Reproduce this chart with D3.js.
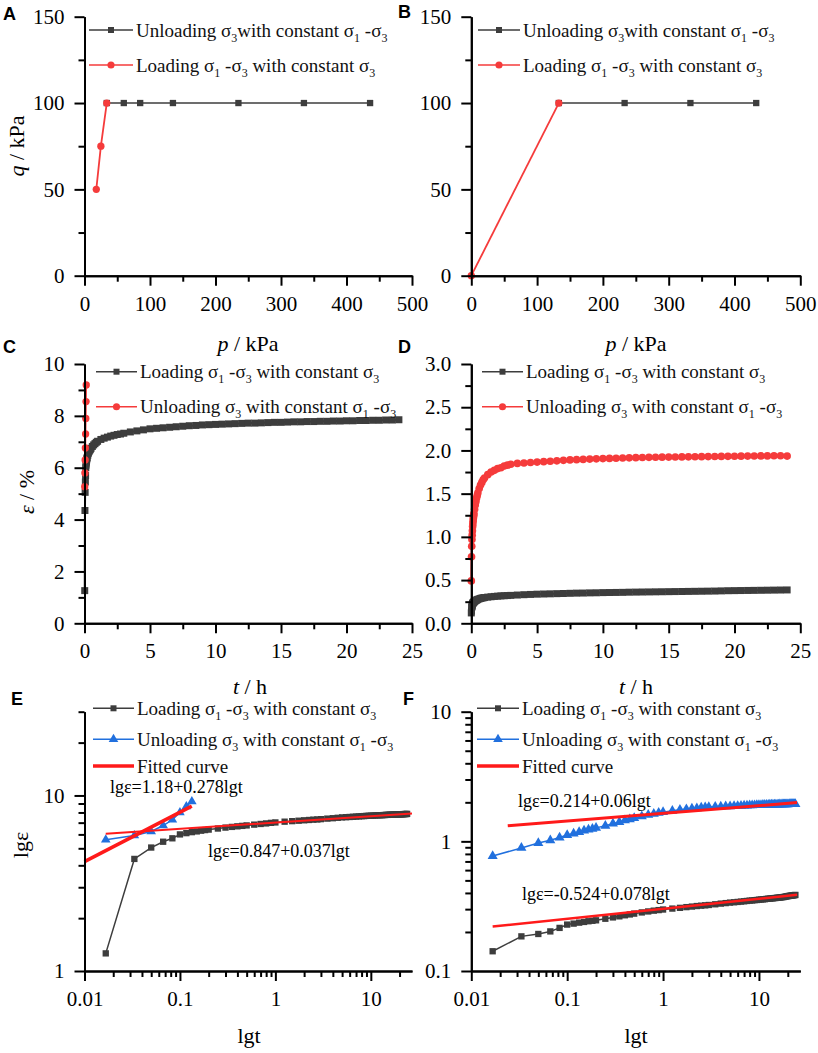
<!DOCTYPE html>
<html>
<head>
<meta charset="utf-8">
<script src="https://cdn.jsdelivr.net/npm/d3@7"></script>
<style>
  body { margin: 0; background: #fff; }
</style>
</head>
<body>
<div id="fig"></div>
<script>
// ---- stress path data (A, B) : p / kPa, q / kPa
const pUnloadA = [34, 60, 85, 135, 235, 335, 436];
const qUnloadA = [100, 100, 100, 100, 100, 100, 100];
const pLoadA = [18, 25, 34];
const qLoadA = [50, 75, 100];
const pUnloadB = [133, 233, 333, 433];
const qUnloadB = [100, 100, 100, 100];
const pLoadB = [0, 133];
const qLoadB = [0, 100];

// ---- creep data (C-F) : t / h, strain / %
const tHours = [0, 0.0167, 0.0333, 0.05, 0.0667, 0.0833, 0.1, 0.1167, 0.1333, 0.15, 0.1667, 0.1833, 0.2,
  0.25, 0.3, 0.35, 0.4, 0.45, 0.5, 0.6, 0.7, 0.8, 0.9, 1,
  1.25, 1.5, 1.75, 2, 2.25, 2.5, 2.75, 3,
  3.5, 4, 4.5, 5, 5.5, 6, 6.5, 7, 7.5, 8, 8.5, 9, 9.5, 10,
  10.5, 11, 11.5, 12, 12.5, 13, 13.5, 14, 14.5, 15, 15.5, 16, 16.5, 17, 17.5, 18, 18.5, 19, 19.5, 20,
  20.5, 21, 21.5, 22, 22.5, 23, 23.5, 24];
// test 1 (C, E): loading sigma1-sigma3
const strainLoad1 = [null, 1.26, 4.35, 5.05, 5.45, 5.7, 6.0, 6.1, 6.18, 6.24, 6.3, 6.35, 6.39,
  6.48, 6.56, 6.62, 6.67, 6.71, 6.75, 6.82, 6.88, 6.93, 6.98, 7.02,
  7.09, 7.14, 7.18, 7.22, 7.25, 7.28, 7.3, 7.33,
  7.38, 7.42, 7.46, 7.5, 7.52, 7.54, 7.56, 7.58, 7.6, 7.62, 7.63, 7.65, 7.66, 7.67,
  7.68, 7.69, 7.7, 7.71, 7.72, 7.72, 7.73, 7.74, 7.75, 7.75, 7.76, 7.77, 7.77, 7.78, 7.78, 7.79, 7.79, 7.8, 7.8, 7.81,
  7.81, 7.82, 7.82, 7.83, 7.83, 7.84, 7.84, 7.85];
// test 1 unloading sigma3 (only the first minutes)
const tUnload1 = [0.0167, 0.0333, 0.05, 0.0667, 0.0833, 0.1, 0.1167, 0.1333];
const strainUnload1C = [5.27, 5.8, 6.3, 6.76, 7.3, 7.9, 8.55, 9.19];
const strainUnload1E = [5.59, 5.91, 6.23, 6.74, 7.27, 8.0, 8.65, 9.24];
// test 2 (D, F)
const strainLoad2 = [0.12, 0.142, 0.185, 0.193, 0.202, 0.215, 0.228, 0.232, 0.236, 0.239, 0.242, 0.244, 0.246,
  0.253, 0.259, 0.264, 0.269, 0.273, 0.277, 0.283, 0.288, 0.292, 0.295, 0.298,
  0.303, 0.307, 0.311, 0.314, 0.317, 0.319, 0.321, 0.323,
  0.327, 0.331, 0.334, 0.337, 0.339, 0.341, 0.343, 0.345, 0.347, 0.349, 0.350, 0.352, 0.353, 0.355,
  0.356, 0.357, 0.358, 0.360, 0.361, 0.362, 0.363, 0.364, 0.365, 0.366, 0.367, 0.368, 0.369, 0.370, 0.371, 0.372, 0.373, 0.375, 0.377, 0.378,
  0.379, 0.380, 0.381, 0.382, 0.383, 0.384, 0.385, 0.386];
const strainUnload2 = [0.49, 0.77, 0.89, 0.97, 1.02, 1.07, 1.12, 1.15, 1.18, 1.21, 1.23, 1.25, 1.27,
  1.32, 1.37, 1.41, 1.45, 1.48, 1.51, 1.56, 1.6, 1.63, 1.66, 1.68,
  1.72, 1.75, 1.77, 1.79, 1.8, 1.82, 1.83, 1.84,
  1.85, 1.855, 1.86, 1.865, 1.87, 1.875, 1.88, 1.885, 1.89, 1.893, 1.896, 1.9, 1.903, 1.906,
  1.908, 1.91, 1.912, 1.914, 1.916, 1.918, 1.92, 1.921, 1.922, 1.923, 1.924, 1.925, 1.926, 1.927, 1.928, 1.929, 1.93, 1.931, 1.932, 1.933,
  1.934, 1.935, 1.936, 1.937, 1.937, 1.938, 1.938, 1.935];

const fitE1t = [0.01, 0.133], fitE1e = [4.2, 8.7];
const fitE2t = [0.0167, 27], fitE2e = [6.05, 7.9];
const fitF1t = [0.024, 25], fitF1e = [1.32, 1.99];
const fitF2t = [0.0167, 25], fitF2e = [0.22, 0.387];

// ---- tick values
const pTicks = [0, 100, 200, 300, 400, 500], pMinor = [50, 150, 250, 350, 450];
const qTicks = [0, 50, 100, 150], qMinor = [25, 75, 125];
const tTicks = [0, 5, 10, 15, 20, 25], tMinor = [2.5, 7.5, 12.5, 17.5, 22.5];
const eCTicks = [0, 2, 4, 6, 8, 10], eCMinor = [1, 3, 5, 7, 9];
const eDTicks = [0, 0.5, 1, 1.5, 2, 2.5, 3], eDMinor = [0.25, 0.75, 1.25, 1.75, 2.25, 2.75];
const lgtTicks = [0.01, 0.1, 1, 10];
const lgtMinor = [0.02, 0.03, 0.04, 0.05, 0.06, 0.07, 0.08, 0.09, 0.2, 0.3, 0.4, 0.5, 0.6, 0.7, 0.8, 0.9,
  2, 3, 4, 5, 6, 7, 8, 9, 20];
const lgETicks = [1, 10], lgEMinor = [2, 3, 4, 5, 6, 7, 8, 9, 20, 30];
const lgFTicks = [0.1, 1, 10], lgFMinor = [0.2, 0.3, 0.4, 0.5, 0.6, 0.7, 0.8, 0.9, 2, 3, 4, 5, 6, 7, 8, 9];

const SERIF = "Liberation Serif";
const SANS = "Liberation Sans";
const grey = "#3d3d3d", red = "#f53b3b", blue = "#2170de", fitRed = "#ff1a1a";

const svg = d3.select("#fig").append("svg")
    .attr("width", 818)
    .attr("height", 1053);

const L = [84.5, 412], R = [471.3, 800.3];
const rows = [[275.7, 16.7], [623.3, 364], [971, 711.7]];

function axes(x, y, xMajor, xMinor, xFmt, yMajor, yMinor, yFmt) {
    const y0 = y.range()[0], x0 = x.range()[0];
    const style = g => {
        g.attr("font-family", null).attr("font-size", null);
        g.selectAll("path, line").attr("stroke", "#000").attr("stroke-width", 2);
        g.selectAll("text")
            .style("font-family", SERIF)
            .style("font-size", "21px")
            .attr("fill", "#000");
    };
    svg.append("g").attr("transform", `translate(0,${y0})`)
        .call(d3.axisBottom(x).tickValues(xMinor).tickSize(6).tickSizeOuter(0).tickFormat(""))
        .call(style);
    svg.append("g").attr("transform", `translate(0,${y0})`)
        .call(d3.axisBottom(x).tickValues(xMajor).tickSize(10).tickPadding(10).tickSizeOuter(0).tickFormat(xFmt))
        .call(style);
    svg.append("g").attr("transform", `translate(${x0},0)`)
        .call(d3.axisLeft(y).tickValues(yMinor).tickSize(6).tickSizeOuter(0).tickFormat(""))
        .call(style);
    svg.append("g").attr("transform", `translate(${x0},0)`)
        .call(d3.axisLeft(y).tickValues(yMajor).tickSize(10).tickPadding(10).tickSizeOuter(0).tickFormat(yFmt))
        .call(style);
}

function series(x, y, xs, ys, color, shape, area, lw) {
    const pts = xs.map((v, i) => [v, ys[i]])
        .filter(d => d[1] != null && (x.base ? d[0] > 0 : true));
    const g = svg.append("g");
    g.append("path")
        .attr("d", d3.line().x(d => x(d[0])).y(d => y(d[1]))(pts))
        .attr("fill", "none").attr("stroke", color).attr("stroke-width", lw);
    if (shape) {
        g.selectAll("path.m").data(pts).join("path")
            .attr("class", "m")
            .attr("transform", d => `translate(${x(d[0])},${y(d[1])})`)
            .attr("d", d3.symbol(shape, area))
            .attr("fill", color);
    }
}

function rich(sel, str) {
    // "_3" -> subscript 3
    const parts = str.split(/_(\d)/);
    parts.forEach((p, i) => {
        if (i % 2 === 1) {
            sel.append("tspan").style("font-size", "12px").attr("dy", 5).text(p);
        } else if (p) {
            sel.append("tspan").attr("dy", i > 0 ? -5 : 0).text(p);
        }
    });
}

function legend(x0, x1, items) {
    items.forEach(it => {
        svg.append("line").attr("x1", x0).attr("x2", x1).attr("y1", it.y).attr("y2", it.y)
            .attr("stroke", it.color).attr("stroke-width", it.lw || 1.5);
        if (it.shape) {
            svg.append("path").attr("transform", `translate(${(x0 + x1) / 2},${it.y})`)
                .attr("d", d3.symbol(it.shape, it.area)).attr("fill", it.color);
        }
        const t = svg.append("text").attr("x", x1 + 3).attr("y", it.y + 6.5)
            .style("font-family", SERIF)
            .style("font-size", "19px").attr("fill", "#111");
        rich(t, it.label);
    });
}

function label(x, y, size, opts = {}) {
    const t = svg.append("text").attr("x", x).attr("y", y)
        .style("font-family", opts.sans ? SANS : SERIF)
        .style("font-size", size + "px")
        .attr("text-anchor", opts.anchor || "start").attr("fill", "#000");
    if (opts.sans) t.style("font-weight", "bold");
    if (opts.rotate) t.attr("transform", `rotate(-90,${x},${y})`);
    return t;
}

function titleWithItalic(t, it, rest) {
    t.append("tspan").style("font-style", "italic").text(it);
    t.append("tspan").text(rest);
}

const fmtPlain = d => String(d);
const fmt1 = d3.format(".1f");

const loadLbl = "Loading σ_1 -σ_3 with constant σ_3";
const unloadLbl = "Unloading σ_3 with constant σ_1 -σ_3";
const unloadLblAB = "Unloading σ_3with constant σ_1 -σ_3";

// ---------- A ----------
{
    const x = d3.scaleLinear().domain([0, 500]).range(L);
    const y = d3.scaleLinear().domain([0, 150]).range(rows[0]);
    series(x, y, pUnloadA, qUnloadA, grey, d3.symbolSquare, 40, 1.5);
    series(x, y, pLoadA, qLoadA, red, d3.symbolCircle, 42, 1.8);
    axes(x, y, pTicks, pMinor, fmtPlain, qTicks, qMinor, fmtPlain);
    legend(89, 133, [
        {y: 30, color: grey, shape: d3.symbolSquare, area: 36, label: unloadLblAB},
        {y: 65, color: red, shape: d3.symbolCircle, area: 40, label: loadLbl}
    ]);
    titleWithItalic(label(24, 146, 22, {anchor: "middle", rotate: true}), "q", " / kPa");
    titleWithItalic(label(248, 351, 22, {anchor: "middle"}), "p", " / kPa");
    label(3, 20, 18, {sans: true}).text("A");
}

// ---------- B ----------
{
    const x = d3.scaleLinear().domain([0, 500]).range(R);
    const y = d3.scaleLinear().domain([0, 150]).range(rows[0]);
    series(x, y, pUnloadB, qUnloadB, grey, d3.symbolSquare, 40, 1.5);
    series(x, y, pLoadB, qLoadB, red, d3.symbolCircle, 42, 1.8);
    axes(x, y, pTicks, pMinor, fmtPlain, qTicks, qMinor, fmtPlain);
    legend(478, 520, [
        {y: 30, color: grey, shape: d3.symbolSquare, area: 36, label: unloadLblAB},
        {y: 65, color: red, shape: d3.symbolCircle, area: 40, label: loadLbl}
    ]);
    titleWithItalic(label(636, 351, 22, {anchor: "middle"}), "p", " / kPa");
    label(398, 18, 18, {sans: true}).text("B");
}

// ---------- C ----------
{
    const x = d3.scaleLinear().domain([0, 25]).range(L);
    const y = d3.scaleLinear().domain([0, 10]).range(rows[1]);
    series(x, y, tHours, strainLoad1, grey, d3.symbolSquare, 49, 2);
    series(x, y, tUnload1, strainUnload1C, red, d3.symbolCircle, 42, 1.5);
    axes(x, y, tTicks, tMinor, fmtPlain, eCTicks, eCMinor, fmtPlain);
    legend(96, 137, [
        {y: 371.7, color: grey, shape: d3.symbolSquare, area: 36, label: loadLbl},
        {y: 406.7, color: red, shape: d3.symbolCircle, area: 40, label: unloadLbl}
    ]);
    titleWithItalic(label(34, 492, 22, {anchor: "middle", rotate: true}), "ε", " / %");
    titleWithItalic(label(250, 694, 22, {anchor: "middle"}), "t", " / h");
    label(3, 353, 18, {sans: true}).text("C");
}

// ---------- D ----------
{
    const x = d3.scaleLinear().domain([0, 25]).range(R);
    const y = d3.scaleLinear().domain([0, 3]).range(rows[1]);
    series(x, y, tHours, strainLoad2, grey, d3.symbolSquare, 49, 2);
    series(x, y, tHours, strainUnload2, red, d3.symbolCircle, 46, 2);
    axes(x, y, tTicks, tMinor, fmtPlain, eDTicks, eDMinor, fmt1);
    legend(482, 523, [
        {y: 371.7, color: grey, shape: d3.symbolSquare, area: 36, label: loadLbl},
        {y: 406.7, color: red, shape: d3.symbolCircle, area: 40, label: unloadLbl}
    ]);
    titleWithItalic(label(636, 694, 22, {anchor: "middle"}), "t", " / h");
    label(398, 353, 18, {sans: true}).text("D");
}

// ---------- E ----------
{
    const x = d3.scaleLog().domain([0.01, 27]).range(L);
    const y = d3.scaleLog().domain([1, 30]).range(rows[2]);
    series(x, y, tHours, strainLoad1, grey, d3.symbolSquare, 40, 1.5);
    series(x, y, tUnload1, strainUnload1E, blue, d3.symbolTriangle, 40, 1.5);
    series(x, y, fitE1t, fitE1e, fitRed, null, 0, 3.5);
    series(x, y, fitE2t, fitE2e, fitRed, null, 0, 2);
    axes(x, y, lgtTicks, lgtMinor, fmtPlain, lgETicks, lgEMinor, fmtPlain);
    legend(93, 134, [
        {y: 708.3, color: grey, shape: d3.symbolSquare, area: 36, label: loadLbl},
        {y: 739.3, color: blue, shape: d3.symbolTriangle, area: 40, label: unloadLbl},
        {y: 766, color: fitRed, lw: 3.5, label: "Fitted curve"}
    ]);
    label(110, 793, 18).text("lgε=1.18+0.278lgt");
    label(208, 857, 18).text("lgε=0.847+0.037lgt");
    label(28, 845, 22, {anchor: "middle", rotate: true}).text("lgε");
    label(249, 1043, 22, {anchor: "middle"}).text("lgt");
    label(11, 705, 18, {sans: true}).text("E");
}

// ---------- F ----------
{
    const x = d3.scaleLog().domain([0.01, 27]).range(R);
    const y = d3.scaleLog().domain([0.1, 10]).range(rows[2]);
    series(x, y, tHours, strainLoad2, grey, d3.symbolSquare, 40, 1.5);
    series(x, y, tHours, strainUnload2, blue, d3.symbolTriangle, 44, 1.5);
    series(x, y, fitF1t, fitF1e, fitRed, null, 0, 3);
    series(x, y, fitF2t, fitF2e, fitRed, null, 0, 2.5);
    axes(x, y, lgtTicks, lgtMinor, fmtPlain, lgFTicks, lgFMinor, fmtPlain);
    legend(477, 519, [
        {y: 708.3, color: grey, shape: d3.symbolSquare, area: 36, label: loadLbl},
        {y: 739.3, color: blue, shape: d3.symbolTriangle, area: 40, label: unloadLbl},
        {y: 766, color: fitRed, lw: 3.5, label: "Fitted curve"}
    ]);
    label(518, 807, 18).text("lgε=0.214+0.06lgt");
    label(522, 900, 18).text("lgε=-0.524+0.078lgt");
    label(636, 1043, 22, {anchor: "middle"}).text("lgt");
    label(403, 705, 18, {sans: true}).text("F");
}
</script>
</body>
</html>
